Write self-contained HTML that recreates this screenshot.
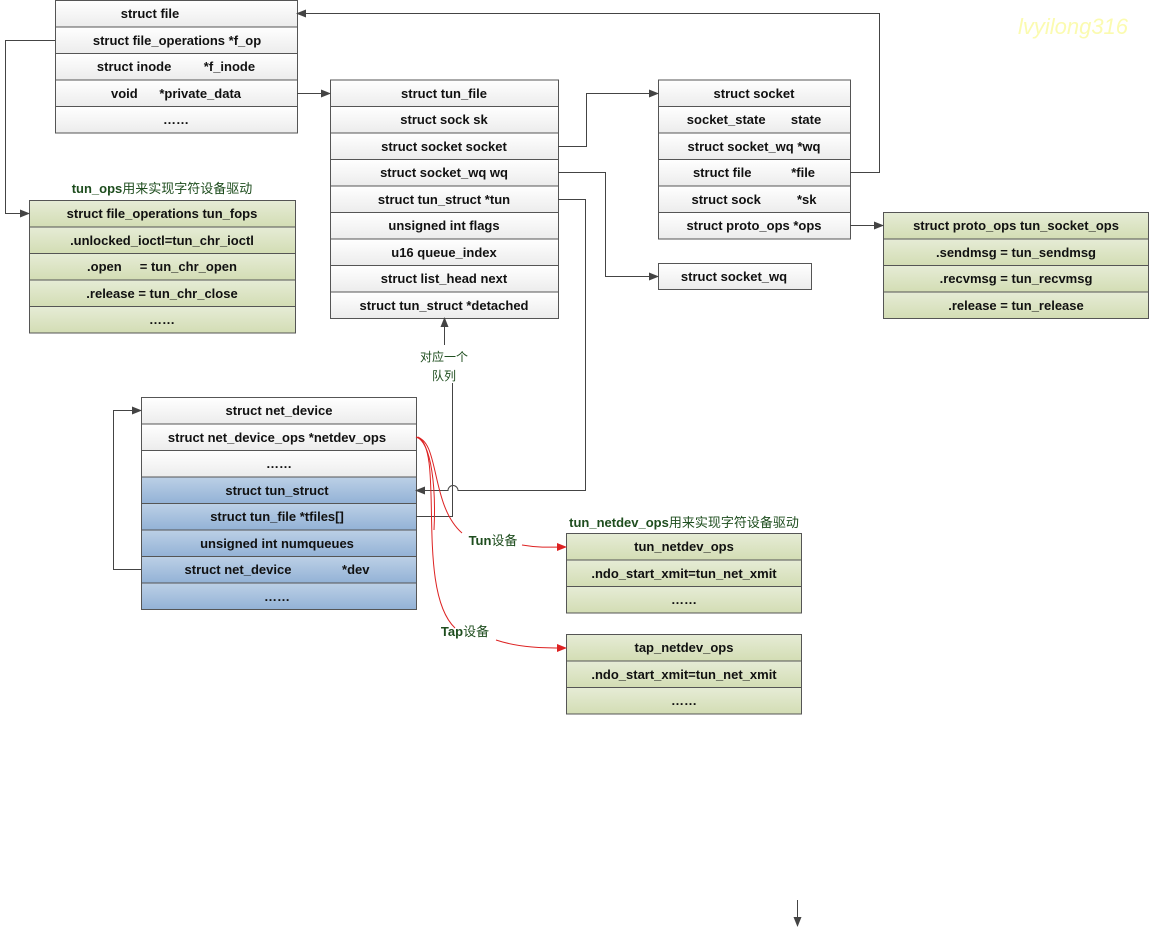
<!DOCTYPE html>
<html><head><meta charset="utf-8"><style>body{margin:0;background:#fff}svg{display:block}text{font-family:"Liberation Sans","Noto Sans CJK SC",sans-serif;font-size:13px;font-weight:bold;fill:#111;text-anchor:middle;white-space:pre}</style></head><body>
<svg width="1151" height="927" viewBox="0 0 1151 927" xml:space="preserve">
<defs>
<linearGradient id="w" x1="0" y1="0" x2="0" y2="1"><stop offset="0" stop-color="#ffffff"/><stop offset="1" stop-color="#ececec"/></linearGradient>
<linearGradient id="g" x1="0" y1="0" x2="0" y2="1"><stop offset="0" stop-color="#e6ecd6"/><stop offset="1" stop-color="#d3ddb4"/></linearGradient>
<linearGradient id="b" x1="0" y1="0" x2="0" y2="1"><stop offset="0" stop-color="#bcd0e6"/><stop offset="1" stop-color="#93b2d6"/></linearGradient>
<marker id="a" markerWidth="10" markerHeight="8" refX="9" refY="4" orient="auto" markerUnits="userSpaceOnUse"><path d="M0,0 L10,4 L0,8 z" fill="#444"/></marker>
<marker id="r" markerWidth="10" markerHeight="8" refX="9" refY="4" orient="auto" markerUnits="userSpaceOnUse"><path d="M0,0 L10,4 L0,8 z" fill="#d22"/></marker>
</defs>
<g stroke="#555" stroke-width="1">
<rect x="55.5" y="0.5" width="242" height="26.5" fill="url(#w)"/><rect x="55.5" y="27" width="242" height="26.5" fill="url(#w)"/><rect x="55.5" y="53.5" width="242" height="26.5" fill="url(#w)"/><rect x="55.5" y="80" width="242" height="26.5" fill="url(#w)"/><rect x="55.5" y="106.5" width="242" height="26.5" fill="url(#w)"/>
<rect x="330.5" y="80" width="228" height="26.5" fill="url(#w)"/><rect x="330.5" y="106.5" width="228" height="26.5" fill="url(#w)"/><rect x="330.5" y="133" width="228" height="26.5" fill="url(#w)"/><rect x="330.5" y="159.5" width="228" height="26.5" fill="url(#w)"/><rect x="330.5" y="186" width="228" height="26.5" fill="url(#w)"/><rect x="330.5" y="212.5" width="228" height="26.5" fill="url(#w)"/><rect x="330.5" y="239" width="228" height="26.5" fill="url(#w)"/><rect x="330.5" y="265.5" width="228" height="26.5" fill="url(#w)"/><rect x="330.5" y="292" width="228" height="26.5" fill="url(#w)"/>
<rect x="658.5" y="80" width="192" height="26.5" fill="url(#w)"/><rect x="658.5" y="106.5" width="192" height="26.5" fill="url(#w)"/><rect x="658.5" y="133" width="192" height="26.5" fill="url(#w)"/><rect x="658.5" y="159.5" width="192" height="26.5" fill="url(#w)"/><rect x="658.5" y="186" width="192" height="26.5" fill="url(#w)"/><rect x="658.5" y="212.5" width="192" height="26.5" fill="url(#w)"/>
<rect x="658.5" y="263.5" width="153" height="26" fill="url(#w)"/>
<rect x="883.5" y="212.5" width="265" height="26.5" fill="url(#g)"/><rect x="883.5" y="239" width="265" height="26.5" fill="url(#g)"/><rect x="883.5" y="265.5" width="265" height="26.5" fill="url(#g)"/><rect x="883.5" y="292" width="265" height="26.5" fill="url(#g)"/>
<rect x="29.5" y="200.5" width="266" height="26.5" fill="url(#g)"/><rect x="29.5" y="227" width="266" height="26.5" fill="url(#g)"/><rect x="29.5" y="253.5" width="266" height="26.5" fill="url(#g)"/><rect x="29.5" y="280" width="266" height="26.5" fill="url(#g)"/><rect x="29.5" y="306.5" width="266" height="26.5" fill="url(#g)"/>
<rect x="141.5" y="397.5" width="275" height="26.5" fill="url(#w)"/><rect x="141.5" y="424" width="275" height="26.5" fill="url(#w)"/><rect x="141.5" y="450.5" width="275" height="26.5" fill="url(#w)"/>
<rect x="141.5" y="477" width="275" height="26.5" fill="url(#b)"/><rect x="141.5" y="503.5" width="275" height="26.5" fill="url(#b)"/><rect x="141.5" y="530" width="275" height="26.5" fill="url(#b)"/><rect x="141.5" y="556.5" width="275" height="26.5" fill="url(#b)"/><rect x="141.5" y="583" width="275" height="26.5" fill="url(#b)"/>
<rect x="566.5" y="533.5" width="235" height="26.5" fill="url(#g)"/><rect x="566.5" y="560" width="235" height="26.5" fill="url(#g)"/><rect x="566.5" y="586.5" width="235" height="26.5" fill="url(#g)"/>
<rect x="566.5" y="634.5" width="235" height="26.5" fill="url(#g)"/><rect x="566.5" y="661" width="235" height="26.5" fill="url(#g)"/><rect x="566.5" y="687.5" width="235" height="26.5" fill="url(#g)"/>
</g>
<g fill="none" stroke="#444" stroke-width="1">
<path d="M55,40.5 H5.5 V213.5 H29" marker-end="url(#a)"/>
<path d="M297,93.5 H330" marker-end="url(#a)"/>
<path d="M558,146.5 H586.5 V93.5 H658" marker-end="url(#a)"/>
<path d="M558,172.5 H605.5 V276.5 H658" marker-end="url(#a)"/>
<path d="M558,199.5 H585.5 V490.5 H458 A5,5 0 0 0 448,490.5 H416" marker-end="url(#a)"/>
<path d="M416,516.5 H452.5 V383"/>
<path d="M444.5,345 V318" marker-end="url(#a)"/>
<path d="M850,172.5 H879.5 V13.5 H297" marker-end="url(#a)"/>
<path d="M850,225.5 H883" marker-end="url(#a)"/>
<path d="M141,569.5 H113.5 V410.5 H141" marker-end="url(#a)"/>
<path d="M797.5,900 V926" marker-end="url(#a)"/>
</g>
<g fill="none" stroke="#d22" stroke-width="1">
<path d="M416,437 C440,440 430,505 462,533"/>
<path d="M416,437 C432,442 436,490 434,530"/>
<path d="M418,437 C445,450 415,590 455,628"/>
<path d="M522,545 C540,548 550,547 566,547" marker-end="url(#r)"/>
<path d="M496,640 C520,648 545,648 566,648" marker-end="url(#r)"/>
</g>
<text x="150" y="18">struct file</text>
<text x="177" y="45">struct file_operations *f_op</text>
<text x="176" y="71">struct inode         *f_inode</text>
<text x="176" y="98">void      *private_data</text>
<text x="176" y="124">……</text>
<text x="444" y="98">struct tun_file</text>
<text x="444" y="124">struct sock sk</text>
<text x="444" y="151">struct socket socket</text>
<text x="444" y="177">struct socket_wq wq</text>
<text x="444" y="204">struct tun_struct *tun</text>
<text x="444" y="230">unsigned int flags</text>
<text x="444" y="257">u16 queue_index</text>
<text x="444" y="283">struct list_head next</text>
<text x="444" y="310">struct tun_struct *detached</text>
<text x="754" y="98">struct socket</text>
<text x="754" y="124">socket_state       state</text>
<text x="754" y="151">struct socket_wq *wq</text>
<text x="754" y="177">struct file           *file</text>
<text x="754" y="204">struct sock          *sk</text>
<text x="754" y="230">struct proto_ops *ops</text>
<text x="734" y="281">struct socket_wq</text>
<text x="1016" y="230">struct proto_ops tun_socket_ops</text>
<text x="1016" y="257">.sendmsg = tun_sendmsg</text>
<text x="1016" y="283">.recvmsg = tun_recvmsg</text>
<text x="1016" y="310">.release = tun_release</text>
<text x="162" y="193" style="fill:#1e4d1e">tun_ops<tspan style="font-weight:normal">用来实现字符设备驱动</tspan></text>
<text x="162" y="218">struct file_operations tun_fops</text>
<text x="162" y="245">.unlocked_ioctl=tun_chr_ioctl</text>
<text x="162" y="271">.open     = tun_chr_open</text>
<text x="162" y="298">.release = tun_chr_close</text>
<text x="162" y="324">……</text>
<text x="279" y="415">struct net_device</text>
<text x="277" y="442">struct net_device_ops *netdev_ops</text>
<text x="279" y="468">……</text>
<text x="277" y="495">struct tun_struct</text>
<text x="277" y="521">struct tun_file *tfiles[]</text>
<text x="277" y="548">unsigned int numqueues</text>
<text x="277" y="574">struct net_device              *dev</text>
<text x="277" y="601">……</text>
<text x="444" y="361" style="font-weight:normal;font-size:12px;fill:#1e4d1e">对应一个</text>
<text x="444" y="380" style="font-weight:normal;font-size:12px;fill:#1e4d1e">队列</text>
<text x="684" y="527" style="fill:#1e4d1e">tun_netdev_ops<tspan style="font-weight:normal">用来实现字符设备驱动</tspan></text>
<text x="684" y="551">tun_netdev_ops</text>
<text x="684" y="578">.ndo_start_xmit=tun_net_xmit</text>
<text x="684" y="604">……</text>
<text x="684" y="652">tap_netdev_ops</text>
<text x="684" y="679">.ndo_start_xmit=tun_net_xmit</text>
<text x="684" y="705">……</text>
<text x="493" y="545" style="fill:#1e4d1e">Tun<tspan style="font-weight:normal">设备</tspan></text>
<text x="465" y="636" style="fill:#1e4d1e">Tap<tspan style="font-weight:normal">设备</tspan></text>
<text x="1073" y="34" style="font-size:22px;font-style:italic;font-weight:normal;fill:#fbfbb0">lvyilong316</text>
</svg>
</body></html>
